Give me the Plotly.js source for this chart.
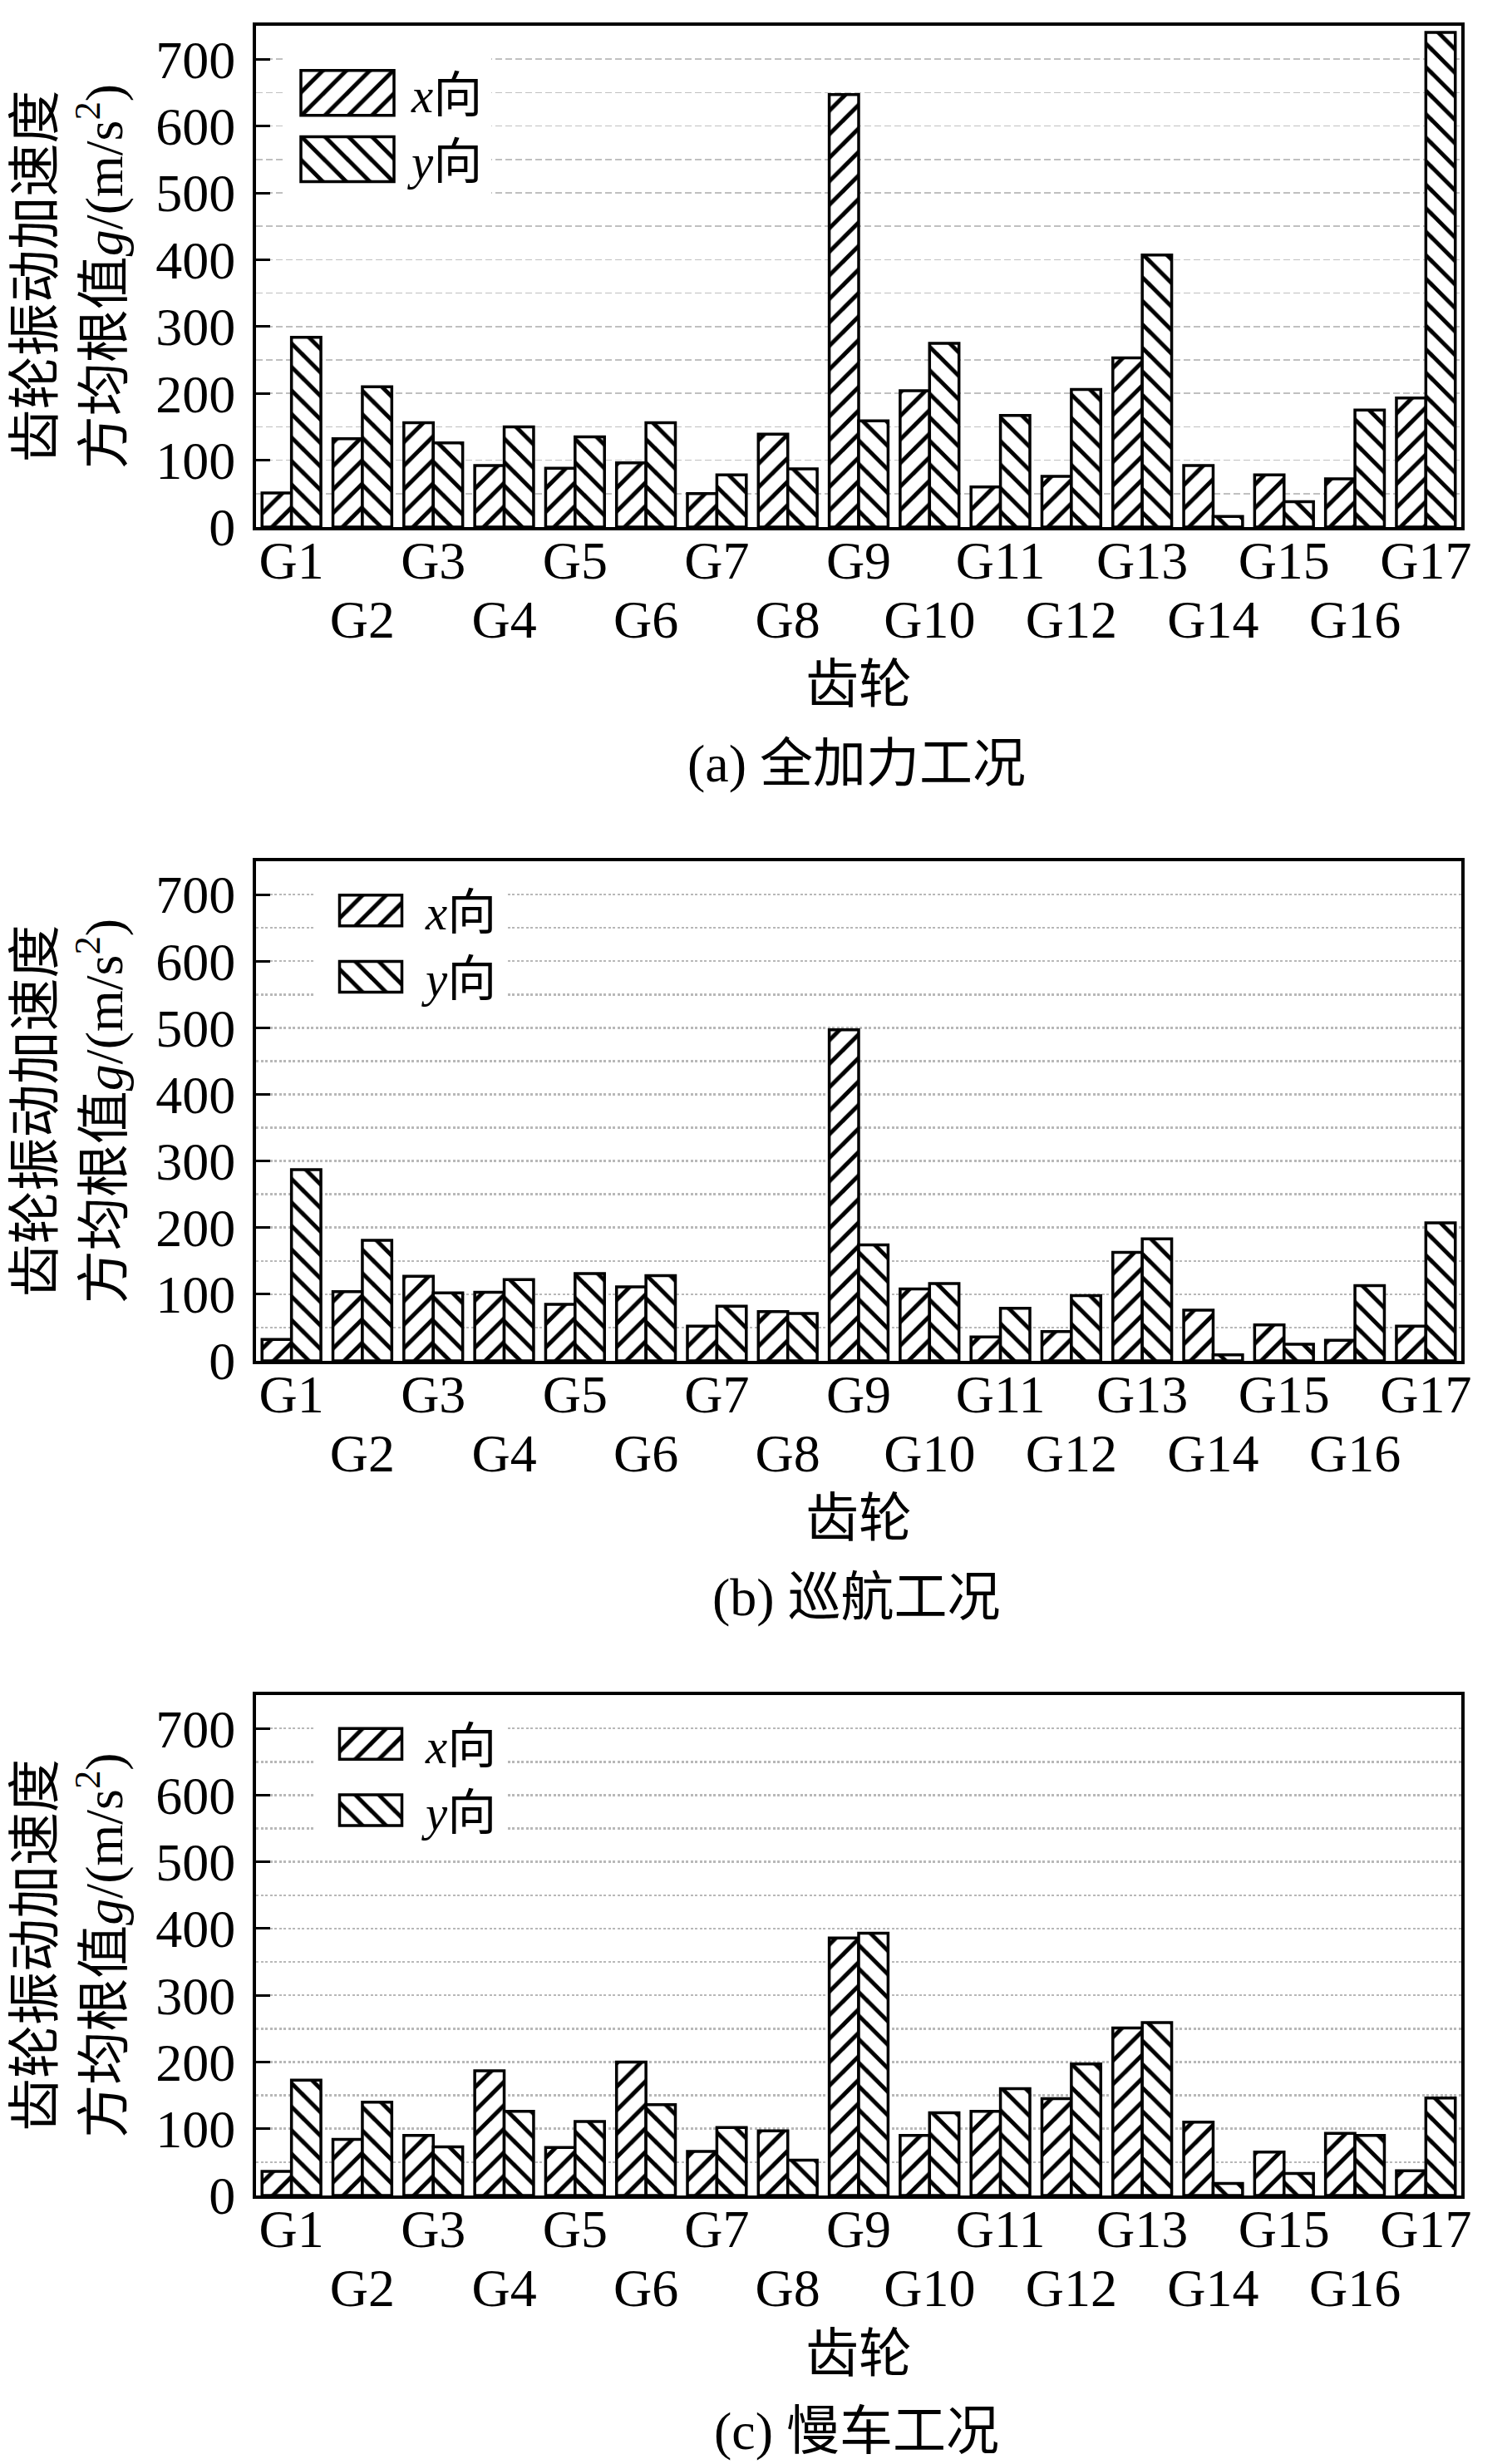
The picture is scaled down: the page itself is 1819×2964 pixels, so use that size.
<!DOCTYPE html>
<html>
<head>
<meta charset="utf-8">
<script src="https://cdn.plot.ly/plotly-3.0.1.min.js"></script>
<style>
  body { margin: 0; background: #fff; }
  #chart { width: 1819px; height: 2964px; }
</style>
</head>
<body>
<div id="chart"></div>
<script>
// gear names
const gears = ['G1','G2','G3','G4','G5','G6','G7','G8','G9','G10','G11','G12','G13','G14','G15','G16','G17'];
const oddGears = gears.filter((g, i) => i % 2 == 0);   // first row of labels
const evenIdx = [1, 3, 5, 7, 9, 11, 13, 15];            // second row of labels
const evenGears = evenIdx.map(i => gears[i]);

// (a) 全加力工况
const fullX = [51, 132, 156, 92, 88, 96, 50, 139, 647, 204, 60, 76, 253, 92, 78, 72, 193];
const fullY = [284, 210, 126, 150, 135, 156, 78, 87, 159, 275, 167, 206, 407, 16, 38, 175, 740];
// (b) 巡航工况
const cruiseX = [32, 104, 127, 103, 85, 111, 52, 74, 497, 108, 36, 44, 163, 76, 54, 31, 52];
const cruiseY = [287, 181, 102, 122, 131, 128, 82, 71, 174, 116, 79, 98, 183, 9, 25, 113, 207];
// (c) 慢车工况
const idleX = [36, 84, 90, 187, 72, 200, 66, 97, 386, 90, 126, 145, 251, 110, 65, 93, 37];
const idleY = [173, 140, 73, 126, 111, 136, 102, 53, 393, 124, 160, 197, 259, 18, 33, 90, 146];

const captions = ['(a) 全加力工况', '(b) 巡航工况', '(c) 慢车工况'];
const yTitle = '齿轮振动加速度<br>方均根值<i>g</i>/(m/s<sup>2</sup>)';
const nameX = '<i>x</i>向', nameY = '<i>y</i>向';

const FONT = 'Liberation Serif, "Noto Sans CJK SC", serif';

// page geometry (px), plot area = everything inside the margins
const W = 1819, H = 2964;
const mL = 308, mR = 61, mT = 31, mB = 323;
const plotH = H - mT - mB, plotW = W - mL - mR;
const py = Y => (H - mB - Y) / plotH;
const px = X => (X - mL) / plotW;

function barTrace(vals, shape, xa, ya, leg, name){
    return {
        type: 'bar', x: gears, y: vals, name: name,
        xaxis: xa, yaxis: ya, legend: leg,
        marker: {
            color: 'white',
            line: { color: 'black', width: 3.5 },
            pattern: { shape: shape, size: 20, solidity: 0.25, fgcolor: 'black', bgcolor: 'white' }
        },
        hoverinfo: 'x+y'
    };
}

let data = [
    barTrace(fullX, '/', 'x', 'y', 'legend', nameX),
    barTrace(fullY, '\\', 'x', 'y', 'legend', nameY),
    barTrace(cruiseX, '/', 'x2', 'y2', 'legend2', nameX),
    barTrace(cruiseY, '\\', 'x2', 'y2', 'legend2', nameY),
    barTrace(idleX, '/', 'x3', 'y3', 'legend3', nameX),
    barTrace(idleY, '\\', 'x3', 'y3', 'legend3', nameY)
];
// empty traces so the second-row label axes get drawn
['4', '5', '6'].forEach((n, i) => {
    data.push({ type: 'scatter', x: [], y: [], xaxis: 'x' + n, yaxis: i == 0 ? 'y' : 'y' + (i + 1),
                showlegend: false, hoverinfo: 'skip' });
});

// frame top / bottom of each panel
const panels = [[31, 634], [1036, 1637], [2039, 2641]];
const grids = [
    { griddash: '8px,4px', gridcolor: '#c0c0c0', gridwidth: 1.5 },
    { griddash: '3px,2.5px', gridcolor: '#b8b8b8', gridwidth: 2.5 },
    { griddash: '3px,2.5px', gridcolor: '#b8b8b8', gridwidth: 2.5 }
];

let layout = {
    width: W, height: H,
    margin: { l: mL, r: mR, t: mT, b: mB, pad: 0 },
    font: { family: FONT, size: 64, color: 'black' },
    paper_bgcolor: 'white', plot_bgcolor: 'white',
    barmode: 'group', bargap: 0.17, bargroupgap: 0,
    showlegend: true,
    annotations: []
};

const legendY = [152, 1135.5, 2138];
const legendX = [341, 380, 380];
const legendW = [144, 122, 122];

panels.forEach(([top, bottom], i) => {
    let s = i == 0 ? '' : String(i + 1);
    let so = String(i + 4);
    layout['xaxis' + s] = {
        type: 'category', categoryorder: 'array', categoryarray: gears,
        range: [-0.5, 16.5], anchor: 'y' + s,
        domain: [0, 1],
        tickmode: 'array', tickvals: oddGears,
        ticks: 'inside', ticklen: 14, tickwidth: 3, tickcolor: 'black',
        tickfont: { size: 64 }, ticklabelstandoff: -19,
        showline: true, linecolor: 'black', linewidth: 4, mirror: true,
        showgrid: false, zeroline: false, fixedrange: true
    };
    layout['xaxis' + so] = {
        type: 'linear', overlaying: 'x' + s, anchor: 'y' + s,
        range: [-0.5, 16.5],
        tickmode: 'array', tickvals: evenIdx, ticktext: evenGears,
        ticks: 'inside', ticklen: 14, tickwidth: 3, tickcolor: 'black',
        tickfont: { size: 64 }, ticklabelstandoff: 68,
        showline: false, showgrid: false, zeroline: false, fixedrange: true
    };
    layout['yaxis' + s] = Object.assign({
        range: [0, 750], anchor: 'x' + s,
        domain: [py(bottom), py(top)],
        tickmode: 'linear', tick0: 0, dtick: 100,
        ticks: 'inside', ticklen: 17, tickwidth: 3, tickcolor: 'black',
        tickfont: { size: 64 }, ticklabelstandoff: 8,
        showline: true, linecolor: 'black', linewidth: 4, mirror: true,
        showgrid: true, zeroline: false, fixedrange: true,
        minor: Object.assign({ dtick: 50, showgrid: true, ticks: '' }, grids[i]),
        title: { text: yTitle, font: { size: 64 }, standoff: 20 }
    }, grids[i]);

    layout['legend' + s] = {
        x: px(legendX[i]), xanchor: 'left',
        y: py(legendY[i]), yanchor: 'middle',
        bgcolor: 'white', borderwidth: 0,
        font: { size: 59 }, itemwidth: legendW[i],
        traceorder: 'normal'
    };

    layout.annotations.push({
        xref: 'paper', yref: 'paper', x: px(1033), y: py(bottom + 190),
        xanchor: 'center', yanchor: 'middle', showarrow: false,
        text: '齿轮', font: { size: 64 }
    });
    layout.annotations.push({
        xref: 'paper', yref: 'paper', x: px(1030), y: py(bottom + 284),
        xanchor: 'center', yanchor: 'middle', showarrow: false,
        text: captions[i], font: { size: 64 }
    });
});

const chart = document.getElementById('chart');
Plotly.newPlot(chart, data, layout, { displayModeBar: false, staticPlot: true }).then(() => {
    // same hatch as the bars, and bigger legend swatches like the original figure
    const barFill = {};
    chart.querySelectorAll('.barlayer .trace').forEach(g => {
        let d = g.__data__;
        if (!d || !d[0] || !d[0].trace) return;
        let p = g.querySelector('.point path');
        if (p) barFill[d[0].trace.uid] = p.style.fill;
    });
    const sw = { legend: [56, 27], legend2: [37.5, 18.5], legend3: [37.5, 18.5] };
    chart.querySelectorAll('.infolayer g.traces').forEach(g => {
        let d = g.__data__;
        if (!d || !d[0] || !d[0].trace) return;
        let tr = d[0].trace;
        let [hw, hh] = sw[tr.legend || 'legend'];
        g.querySelectorAll('.legendpoints path').forEach(p => {
            p.setAttribute('d', `M${hw},${hh}H${-hw}V${-hh}H${hw}Z`);
            p.style.strokeWidth = '3.5px';
            if (barFill[tr.uid]) p.style.fill = barFill[tr.uid];
        });
    });
});
</script>
</body>
</html>
